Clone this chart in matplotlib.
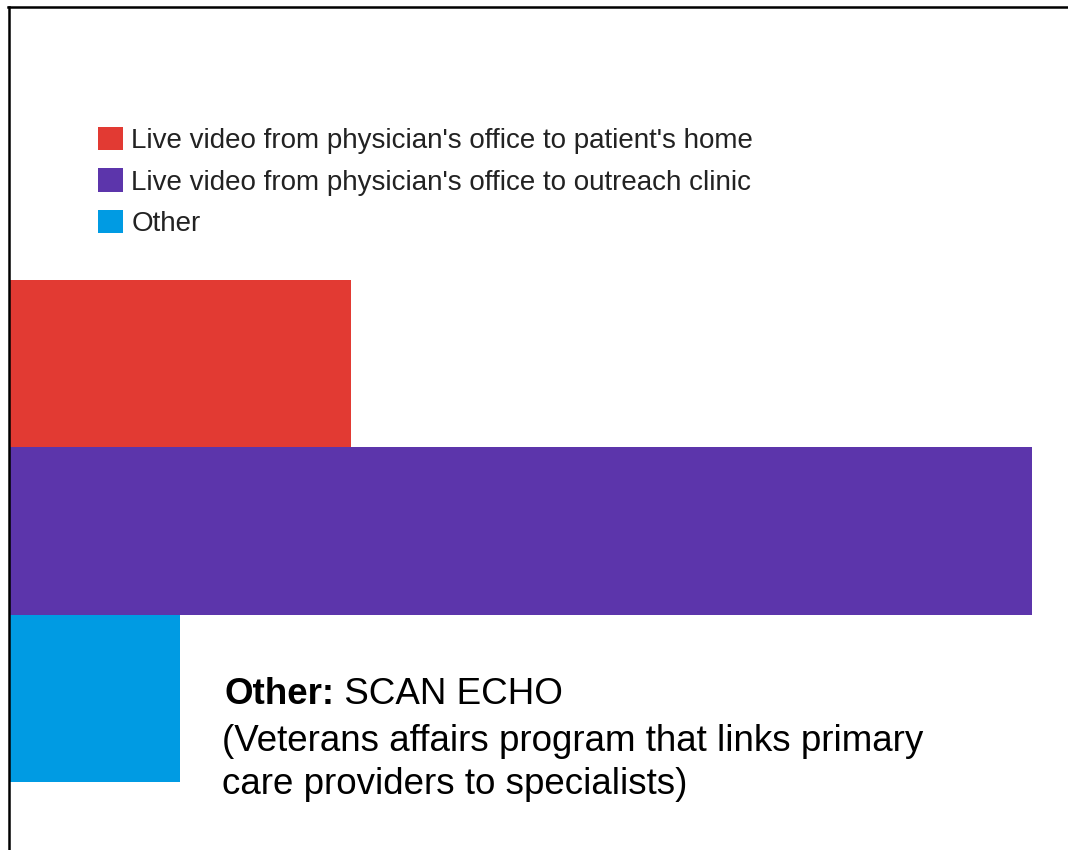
import matplotlib
matplotlib.use("Agg")
import matplotlib.pyplot as plt
from matplotlib.patches import Patch
from matplotlib.lines import Line2D

plt.rcParams["font.family"] = ["Liberation Sans", "DejaVu Sans"]

labels = ["Live video from physician's office to patient's home",
          "Live video from physician's office to outreach clinic",
          "Other"]
values = [2, 6, 1]
colors = ["#e23a33", "#5c35ab", "#009be3"]

W, H = 1068, 850
fig = plt.figure(figsize=(W / 100, H / 100), dpi=100)

# bars fill the lower part, flush against the left frame line
ax = fig.add_axes([10 / W, 1 - 782 / H, 1022 / W, 502 / H])
ax.barh(range(len(values)), values, height=1.0, color=colors)
ax.set_xlim(0, max(values))
ax.set_ylim(len(values) - 0.5, -0.5)
ax.axis("off")

handles = [Patch(facecolor=c, edgecolor="none") for c in colors]
fig.legend(handles, labels, loc="upper left",
           bbox_to_anchor=(84 / W, 1 - 113 / H), frameon=False,
           fontsize=20, handlelength=0.9, handleheight=0.9,
           handletextpad=0.3, labelspacing=0.52, borderpad=0,
           labelcolor="#222222")

# note about the "Other" category
t = fig.text(224 / W, 1 - 694 / H, "Other:", fontsize=26.5, fontweight="bold",
             va="center", ha="left")
ax.annotate(" SCAN ECHO", xy=(1, 0.5), xycoords=t, va="center", ha="left",
            fontsize=26.5)
fig.text(222 / W, 1 - 763 / H,
         "(Veterans affairs program that links primary\ncare providers to specialists)",
         fontsize=26.5, va="center", ha="left", linespacing=1.28)

# frame lines along top and left edges
fig.add_artist(Line2D([8 / W, 1], [1 - 7 / H, 1 - 7 / H], color="black", lw=1.8))
fig.add_artist(Line2D([8.5 / W, 8.5 / W], [0, 1 - 7 / H], color="black", lw=1.8))

fig.savefig("out.png", dpi=100)
